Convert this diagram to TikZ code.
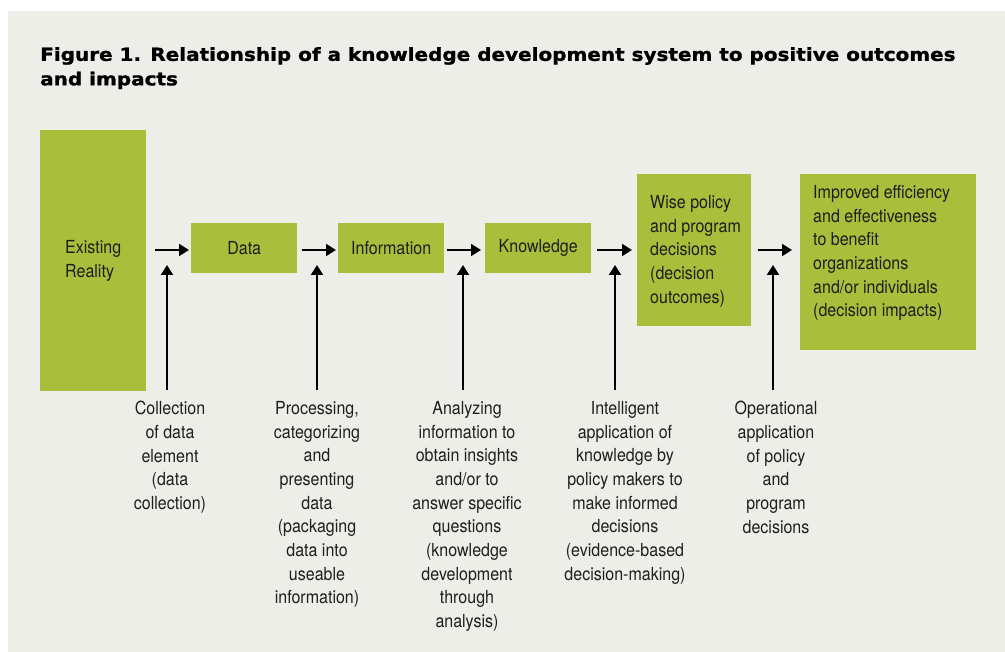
\documentclass[tikz,border=0pt]{standalone}
\usepackage{fontspec}
\setmainfont{TeX Gyre Heros}[FakeStretch=0.89]
\newfontfamily\titlefont{DejaVu Sans}[FakeStretch=1.11, BoldFeatures={FakeBold=1.2, FakeStretch=1.11}]
\usetikzlibrary{arrows.meta}

\definecolor{boxgreen}{HTML}{A9BF3B}
\definecolor{panel}{HTML}{EEEEE9}
\definecolor{ink}{HTML}{1E1E1E}

\newcommand\bodyfont{\fontsize{18}{23.7}\selectfont}
\newcommand\headfont{\titlefont\bfseries\fontsize{18}{24.5}\selectfont}

\tikzset{
  gbox/.style={fill=boxgreen, draw=none, anchor=north west, inner sep=0pt,
               font=\bodyfont, text=ink},
  boxtext/.style={font=\bodyfont, text=ink, align=left, inner sep=0pt, anchor=north west},
  note/.style={font=\bodyfont, text=ink, align=center, inner sep=0pt, anchor=north},
  flow/.style={draw=black, line width=2pt, -{Triangle[length=10pt,width=12pt]}},
}

\begin{document}
\begin{tikzpicture}[x=1pt,y=-1pt]
  % page and panel
  \fill[white] (0,0) rectangle (1005,652);
  \useasboundingbox (0,0) rectangle (1005,652);
  \fill[panel] (8,11) rectangle (1005,652);

  % heading
  \node[font=\headfont, text=black, align=left, inner sep=0pt, anchor=north west] (title)
    at (40,47) {Figure 1. Relationship of a knowledge development system to positive outcomes\\and impacts};

  % stages
  \node[gbox, minimum width=106pt, minimum height=261pt] (reality) at (40,130) {};
  \node[gbox, minimum width=106pt, minimum height=50pt] (data) at (191,223) {Data};
  \node[gbox, minimum width=106pt, minimum height=50pt] (info) at (338,223) {Information};
  \node[gbox, minimum width=106pt, minimum height=50pt] (know) at (485,223) {Knowledge};
  \node[gbox, minimum width=114pt, minimum height=152pt] (wise) at (637,174) {};
  \node[gbox, minimum width=176pt, minimum height=176pt] (impr) at (800,174) {};

  \node[boxtext] (realitytext) at (65,240) {Existing\\Reality};
  \node[boxtext] (wisetext) at (650,195) {Wise policy\\and program\\decisions\\(decision\\outcomes)};
  \node[boxtext] (imprtext) at (813,185) {Improved efficiency\\and effectiveness\\to benefit\\organizations\\and/or individuals\\(decision impacts)};

  % activities below
  \node[note] (collect) at (170,401) {Collection\\of data\\element\\(data\\collection)};
  \node[note] (process) at (317,401) {Processing,\\categorizing\\and\\presenting\\data\\(packaging\\data into\\useable\\information)};
  \node[note] (analyze) at (467,401) {Analyzing\\information to\\obtain insights\\and/or to\\answer specific\\questions\\(knowledge\\development\\through\\analysis)};
  \node[note] (apply) at (625,401) {Intelligent\\application of\\knowledge by\\policy makers to\\make informed\\decisions\\(evidence-based\\decision-making)};
  \node[note] (operate) at (776,401) {Operational\\application\\of policy\\and\\program\\decisions};

  % arrow end points
  \coordinate (h1s) at (155,250); \coordinate (h1e) at (189,250);
  \coordinate (h2s) at (302,250); \coordinate (h2e) at (336,250);
  \coordinate (h3s) at (447,250); \coordinate (h3e) at (481,250);
  \coordinate (h4s) at (597,250); \coordinate (h4e) at (632,250);
  \coordinate (h5s) at (758,250); \coordinate (h5e) at (792,250);

  \coordinate (v1s) at (167,390); \coordinate (v1e) at (167,265);
  \coordinate (v2s) at (317,390); \coordinate (v2e) at (317,265);
  \coordinate (v3s) at (463,390); \coordinate (v3e) at (463,265);
  \coordinate (v4s) at (615,390); \coordinate (v4e) at (615,265);
  \coordinate (v5s) at (773,390); \coordinate (v5e) at (773,265);

  % flow arrows
  \foreach \i in {1,...,5} {
    \draw[flow] (h\i s) -- (h\i e);
    \draw[flow] (v\i s) -- (v\i e);
  }
\end{tikzpicture}
\end{document}
